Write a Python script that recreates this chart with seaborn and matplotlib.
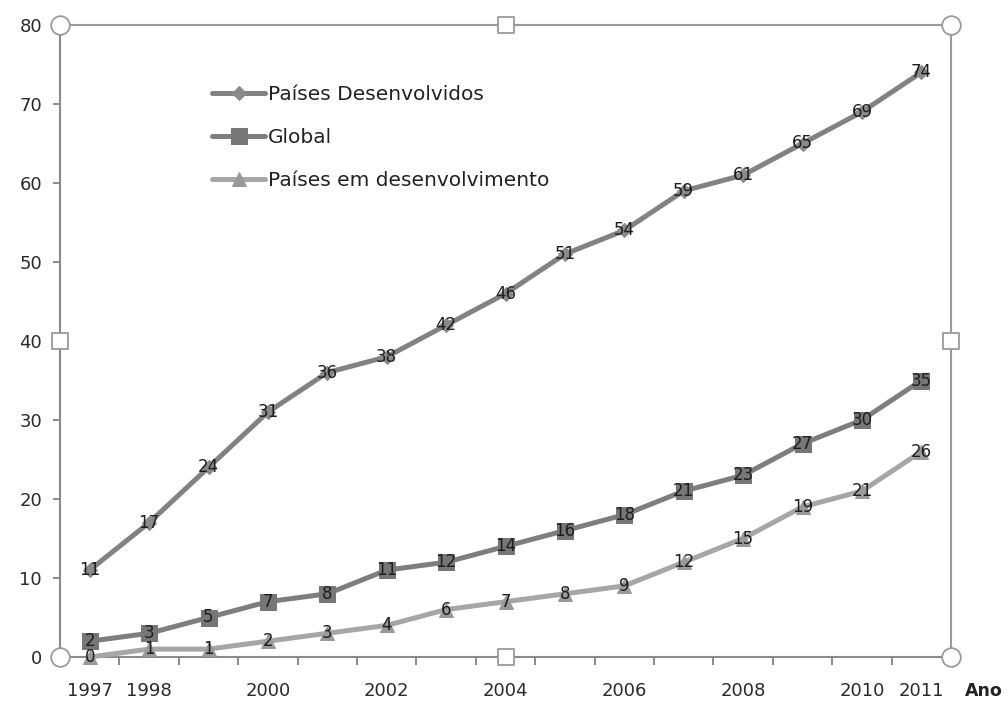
import matplotlib
matplotlib.use("Agg")
import matplotlib.pyplot as plt
import seaborn as sns
import pandas as pd

# Series values (percent), one value per year 1997-2011
anos = list(range(1997, 2012))
desenvolvidos = [11, 17, 24, 31, 36, 38, 42, 46, 51, 54, 59, 61, 65, 69, 74]
global_ = [2, 3, 5, 7, 8, 11, 12, 14, 16, 18, 21, 23, 27, 30, 35]
em_desenvolvimento = [0, 1, 1, 2, 3, 4, 6, 7, 8, 9, 12, 15, 19, 21, 26]

series_names = ["Países Desenvolvidos", "Global", "Países em desenvolvimento"]
series_values = [desenvolvidos, global_, em_desenvolvimento]
tick_years = [1997, 1998, 2000, 2002, 2004, 2006, 2008, 2010, 2011]
y_ticks = [0, 10, 20, 30, 40, 50, 60, 70, 80]

df = pd.DataFrame(
    [(a, v, n) for n, vals in zip(series_names, series_values) for a, v in zip(anos, vals)],
    columns=["Ano", "Valor", "Serie"],
)

sns.set_theme(style="white")
plt.rcParams["font.family"] = ["DejaVu Sans"]

line_colors = {"Países Desenvolvidos": "#828282", "Global": "#7e7e7e",
               "Países em desenvolvimento": "#a6a6a6"}
marker_colors = {"Países Desenvolvidos": "#8a8a8a", "Global": "#767676",
                 "Países em desenvolvimento": "#999999"}
markers = {"Países Desenvolvidos": "D", "Global": "s", "Países em desenvolvimento": "^"}
msizes = {"Países Desenvolvidos": 7, "Global": 11.5, "Países em desenvolvimento": 10}

fig = plt.figure(figsize=(10.08, 7.02), dpi=100)
ax = fig.add_axes([60 / 1008, 1 - 657 / 702, (951 - 60) / 1008, (657 - 25) / 702])

for name in series_names:
    sub = df[df["Serie"] == name]
    sns.lineplot(data=sub, x="Ano", y="Valor", ax=ax, color=line_colors[name],
                 linewidth=3.6, marker=markers[name], markersize=msizes[name],
                 markerfacecolor=marker_colors[name], markeredgecolor=marker_colors[name],
                 label=name, zorder=3, clip_on=False)
    for a, v in zip(sub["Ano"], sub["Valor"]):
        ax.text(a, v, str(v), ha="center", va="center", fontsize=12,
                color="#1e1e1e", zorder=5)

ax.set_xlim(1996.5, 2011.5)
ax.set_ylim(0, 80)
ax.set_xticks(tick_years)
ax.set_xticks([y + 0.5 for y in anos[:-1]], minor=True)
ax.tick_params(axis="x", which="major", length=0, labelsize=13, pad=18, colors="#2a2a2a")
ax.tick_params(axis="x", which="minor", length=6, width=1.2, color="#777777", direction="out")
ax.set_yticks(y_ticks)
ax.tick_params(axis="y", length=5, width=1.2, color="#777777", direction="out",
               labelsize=13, pad=8, labelcolor="#2a2a2a")
ax.xaxis.set_ticks_position("bottom")
ax.yaxis.set_ticks_position("left")
ax.set_xlabel("")
ax.set_ylabel("")
for side in ["top", "bottom", "left", "right"]:
    ax.spines[side].set_visible(True)
    ax.spines[side].set_color("#9a9a9a")
    ax.spines[side].set_linewidth(1.5)
ax.spines["left"].set_color("#8a8a8a")
ax.spines["bottom"].set_color("#8a8a8a")

# Selection handles on the frame
corner_x = [0, 1, 0, 1]
corner_y = [0, 0, 1, 1]
ax.scatter(corner_x, corner_y, s=180, marker="o", facecolor="white", edgecolor="#9a9a9a",
           linewidth=1.3, transform=ax.transAxes, clip_on=False, zorder=6)
mid_x = [0.5, 0.5, 0, 1]
mid_y = [0, 1, 0.5, 0.5]
ax.scatter(mid_x, mid_y, s=120, marker="s", facecolor="white", edgecolor="#9a9a9a",
           linewidth=1.3, transform=ax.transAxes, clip_on=False, zorder=6)

leg = ax.legend(loc="upper left", bbox_to_anchor=(0.162, 0.918), frameon=False,
                fontsize=14.5, handlelength=2.6, labelspacing=1.2, handletextpad=0.15,
                borderaxespad=0)
for t in leg.get_texts():
    t.set_color("#222222")

fig.text(965 / 1008, 1 - 691 / 702, "Ano", fontsize=12.5, fontweight="bold",
         color="#222222", ha="left", va="center")

fig.savefig("out.png", dpi=100, facecolor="white")
